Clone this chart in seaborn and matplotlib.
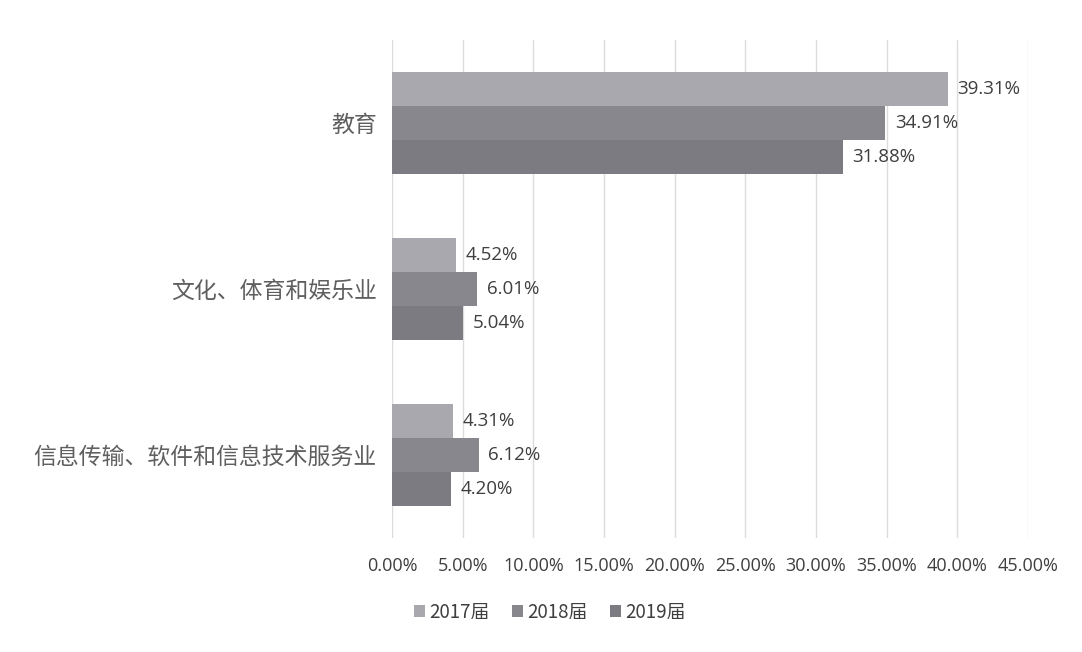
import matplotlib
matplotlib.use("Agg")
import matplotlib.pyplot as plt
import numpy as np
import pandas as pd
import seaborn as sns
from matplotlib.patches import Patch

# ─────────────────────────────────────────────
# DATA
# ─────────────────────────────────────────────
industries = ["教育", "文化、体育和娱乐业", "信息传输、软件和信息技术服务业"]
years = ["2017届", "2018届", "2019届"]
share_2017 = [39.31, 4.52, 4.31]
share_2018 = [34.91, 6.01, 6.12]
share_2019 = [31.88, 5.04, 4.20]
x_ticks = [0, 5, 10, 15, 20, 25, 30, 35, 40, 45]

colors = ["#a9a8ae", "#88878d", "#7c7b81"]

df = pd.DataFrame({
    "industry": industries * 3,
    "year": [years[0]] * 3 + [years[1]] * 3 + [years[2]] * 3,
    "share": share_2017 + share_2018 + share_2019,
})

# ─────────────────────────────────────────────
# PLOT
# ─────────────────────────────────────────────
sns.set_theme(style="white")
plt.rcParams["font.family"] = ["Noto Sans CJK SC", "DejaVu Sans"]

fig = plt.figure(figsize=(10.82, 6.52), dpi=100)
ax = fig.add_axes([0.3623, 0.175, 0.5878, 0.764])

sns.barplot(data=df, y="industry", x="share", hue="year", order=industries,
            hue_order=years, palette=colors, orient="h", width=0.615,
            saturation=1, linewidth=0, ax=ax, legend=False)

for container in ax.containers:
    ax.bar_label(container, labels=[f"{v:.2f}%" for v in container.datavalues],
                 padding=7, fontsize=13.5, color="#3f3f3f", family="Open Sans")

ax.set_xlim(0, 45)
ax.set_xticks(x_ticks)
ax.set_xticklabels([f"{t:.2f}%" for t in x_ticks], fontsize=13, color="#3f3f3f",
                   family="Open Sans")
ax.tick_params(axis="x", length=0, pad=14)
ax.tick_params(axis="y", length=0, pad=11, labelsize=16.5, labelcolor="#5f5f5f")
for lbl in ax.get_yticklabels():
    lbl.set_fontweight("light")
ax.set_xlabel("")
ax.set_ylabel("")
ax.grid(axis="x", color="#dcdcdc", linewidth=1)
ax.set_axisbelow(True)
for s in ax.spines.values():
    s.set_visible(False)

handles = [Patch(facecolor=c, edgecolor="none") for c in colors]
fig.legend(handles, years, loc="center", bbox_to_anchor=(0.508, 0.061), ncol=3,
           frameon=False, fontsize=13.5, handlelength=0.6, handleheight=0.6,
           handletextpad=0.2, columnspacing=1.2, labelcolor="#3f3f3f")

fig.savefig("out.png", dpi=100, facecolor="white")
